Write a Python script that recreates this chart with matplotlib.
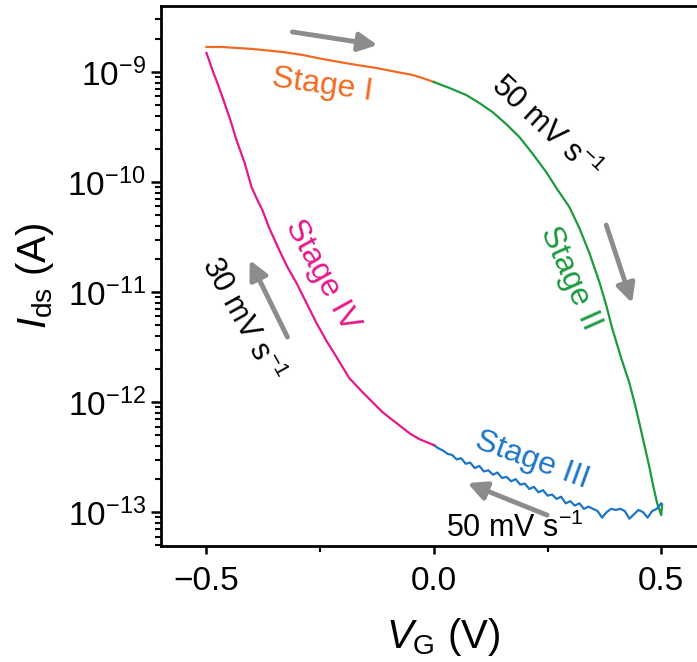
"""
Transfer hysteresis loop of the device: I_ds vs V_G over four sweep stages.
"""

import numpy as np
import matplotlib
matplotlib.use("Agg")
from matplotlib import pyplot as plt
from matplotlib.ticker import LogLocator, MultipleLocator, NullFormatter

plt.rcParams['font.family'] = ['Liberation Sans', 'DejaVu Sans']
plt.rcParams['mathtext.fontset'] = 'custom'
plt.rcParams['mathtext.rm'] = 'Liberation Sans'
plt.rcParams['mathtext.it'] = 'Liberation Sans:italic'
plt.rcParams['mathtext.sf'] = 'Liberation Sans'

# sweep data, log10 of I_ds in A
stage1_vg = [-0.50, -0.465, -0.399, -0.333, -0.289, -0.245, -0.208, -0.170,
             -0.126, -0.082, -0.047, -0.025, 0.0]
stage1_log = [-8.773, -8.773, -8.791, -8.818, -8.845, -8.882, -8.909, -8.936,
              -8.964, -9.000, -9.027, -9.055, -9.091]

stage2_vg = [0.0, 0.034, 0.071, 0.100, 0.129, 0.159, 0.188, 0.216, 0.247,
             0.271, 0.298, 0.320, 0.342, 0.364, 0.379, 0.392, 0.412, 0.430,
             0.441, 0.452, 0.463, 0.474, 0.482, 0.491, 0.500, 0.502]
stage2_log = [-9.091, -9.145, -9.209, -9.282, -9.364, -9.473, -9.591, -9.736, -9.909,
              -10.064, -10.227, -10.418, -10.645, -10.909, -11.118, -11.327, -11.600, -11.827,
              -12.000, -12.191, -12.391, -12.591, -12.755, -12.918, -13.027, -12.93]

stage3_vg = [0.50, 0.49, 0.48, 0.47, 0.46, 0.45, 0.44, 0.43, 0.42, 0.41,
             0.40, 0.39, 0.38, 0.37, 0.36, 0.35, 0.34, 0.33, 0.32, 0.31,
             0.30, 0.29, 0.28, 0.27, 0.26, 0.25, 0.24, 0.23, 0.22, 0.21,
             0.20, 0.19, 0.18, 0.17, 0.16, 0.15, 0.14, 0.13, 0.12, 0.11,
             0.10, 0.09, 0.08, 0.07, 0.06, 0.05, 0.04, 0.03, 0.02, 0.01, 0.00]
stage3_log = [-12.92, -12.97, -12.99, -13.05, -13.00, -12.98, -13.02, -13.06, -12.99, -12.97,
              -12.98, -12.97, -13.00, -13.05, -12.99, -12.97, -12.95, -12.97, -12.92, -12.94,
              -12.90, -12.92, -12.86, -12.88, -12.84, -12.85, -12.80, -12.82, -12.77, -12.79,
              -12.74, -12.75, -12.70, -12.72, -12.68, -12.69, -12.64, -12.66, -12.62, -12.63,
              -12.58, -12.60, -12.55, -12.56, -12.51, -12.52, -12.48, -12.47, -12.44, -12.42,
              -12.39]

stage4_vg = [0.0, -0.032, -0.054, -0.082, -0.113, -0.135, -0.157, -0.186, -0.214,
             -0.236, -0.258, -0.280, -0.302, -0.322, -0.340, -0.362, -0.377, -0.388,
             -0.401, -0.416, -0.434, -0.449, -0.465, -0.476, -0.487, -0.493, -0.50]
stage4_log = [-12.391, -12.336, -12.282, -12.191, -12.091, -12.000, -11.909, -11.782, -11.591,
              -11.445, -11.282, -11.100, -10.918, -10.773, -10.618, -10.418, -10.255, -10.164,
              -10.045, -9.827, -9.618, -9.418, -9.227, -9.100, -8.982, -8.909, -8.827]

c_orange = '#F26A21'
c_green = '#1B9A3E'
c_blue = '#1C75C8'
c_pink = '#E5188A'
c_arrow = '#8C8C8C'

fig = plt.figure(figsize=(6.97, 6.62), dpi=100)
ax = fig.add_axes([0.231, 0.175, 0.809, 0.816])

for vg, lg, c in [(stage1_vg, stage1_log, c_orange),
                  (stage2_vg, stage2_log, c_green),
                  (stage3_vg, stage3_log, c_blue),
                  (stage4_vg, stage4_log, c_pink)]:
    ax.plot(vg, 10.0 ** np.array(lg), color=c, lw=1.6)

ax.set_yscale('log')
ax.set_xlim(-0.6, 0.64)
ax.set_ylim(10 ** -13.309, 10 ** -8.4)

ax.xaxis.set_minor_locator(MultipleLocator(0.25))
ax.set_xticks([-0.5, 0.0, 0.5])
ax.set_xticklabels(['\u22120.5', '0.0', '0.5'])
ax.yaxis.set_major_locator(LogLocator(base=10, numticks=20))
ax.yaxis.set_minor_locator(LogLocator(base=10, subs=np.arange(2, 10), numticks=20))
ax.yaxis.set_minor_formatter(NullFormatter())

ax.tick_params(axis='both', which='major', labelsize=24, width=1.8, direction='out')
ax.tick_params(axis='y', which='major', length=7, pad=4)
ax.tick_params(axis='x', which='major', length=6, pad=8)
ax.tick_params(axis='both', which='minor', width=1.5, length=4, direction='out')

for side in ['left', 'bottom', 'top']:
    ax.spines[side].set_linewidth(2.0)
ax.spines['right'].set_visible(False)

ax.set_xlabel(r'$V_{\rm G}$ (V)', fontsize=29, labelpad=14)
ax.set_ylabel(r'$I_{\rm ds}$ (A)', fontsize=29, labelpad=8)


def lg(v):
    return 10.0 ** v


# stage labels and sweep rates
ax.text(-0.245, lg(-9.118), 'Stage I', color=c_orange, fontsize=23,
        rotation=-8, ha='center', va='center')
ax.text(0.300, lg(-10.873), 'Stage II', color=c_green, fontsize=23,
        rotation=-66, ha='center', va='center')
ax.text(0.216, lg(-12.527), 'Stage III', color=c_blue, fontsize=23,
        rotation=-20, ha='center', va='center')
ax.text(-0.247, lg(-10.845), 'Stage IV', color=c_pink, fontsize=23,
        rotation=-61, ha='center', va='center')

ax.text(0.245, lg(-9.509), r'50 mV s$^{-1}$', color='black', fontsize=22,
        rotation=-43, ha='center', va='center')
ax.text(0.177, lg(-13.145), r'50 mV s$^{-1}$', color='black', fontsize=22,
        ha='center', va='center')
ax.text(-0.423, lg(-11.255), r'30 mV s$^{-1}$', color='black', fontsize=22,
        rotation=-61, ha='center', va='center')

# sweep direction arrows
arrows = [((-0.311, -8.636), (-0.124, -8.755)),
          ((0.379, -10.391), (0.436, -11.10)),
          ((0.249, -13.027), (0.074, -12.736)),
          ((-0.322, -11.409), (-0.405, -10.709))]
for (x0, y0), (x1, y1) in arrows:
    ax.annotate('', xy=(x1, lg(y1)), xytext=(x0, lg(y0)),
                arrowprops=dict(arrowstyle='-|>', color=c_arrow, lw=3.5,
                                mutation_scale=28, shrinkA=0, shrinkB=0))

fig.savefig('out.png', dpi=100)
